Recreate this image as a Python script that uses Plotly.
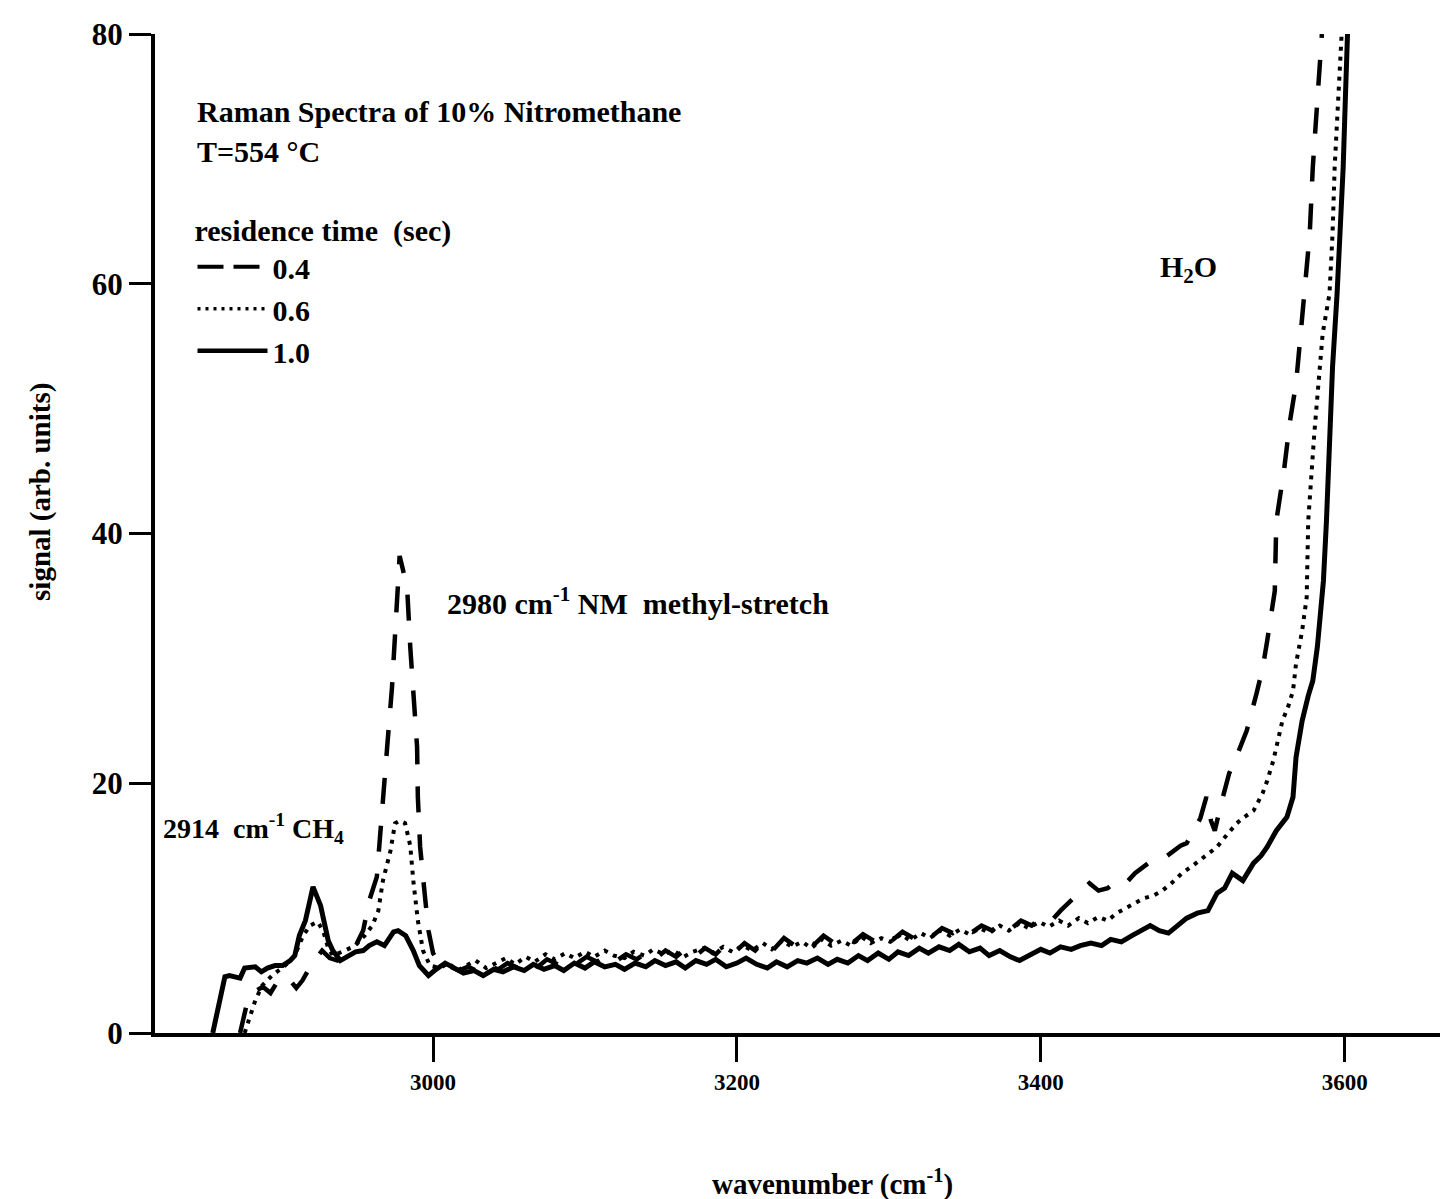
import plotly.graph_objects as go

# ---------------- data ----------------
# residence time 0.4 s (dashed)
x_04 = [2873, 2877, 2881, 2888, 2893, 2897, 2904, 2910, 2914, 2920, 2927, 2932, 2937, 2943,
        2950, 2954, 2958, 2963, 2967, 2970, 2973, 2975, 2977, 2978, 2980, 2983, 2985, 2987,
        2989.5, 2990, 2991.5, 2994.7, 2997, 3000, 3004,
        3010, 3017, 3023, 3030, 3036, 3043, 3049, 3056, 3062, 3069, 3075, 3082, 3088, 3095,
        3101, 3108, 3114, 3121, 3127, 3134, 3140, 3147, 3153, 3160, 3166, 3173, 3179, 3186,
        3192, 3199, 3205, 3212, 3218, 3225, 3231, 3238, 3244, 3251, 3257, 3264, 3270, 3277,
        3283, 3290, 3296, 3303, 3309, 3316, 3322, 3329, 3335, 3342, 3348, 3355, 3361, 3368,
        3374, 3381, 3387, 3394, 3400, 3407, 3413, 3420, 3426, 3432, 3438, 3444, 3450, 3456,
        3462, 3467, 3473, 3480, 3486, 3492, 3496, 3500, 3505, 3509, 3512, 3514.5, 3519, 3524,
        3530, 3535.5, 3542, 3546, 3549, 3554, 3555, 3560, 3564, 3568, 3572, 3575, 3577, 3579,
        3582, 3585]
y_04 = [0, 2.1, 3.2, 3.7, 3.2, 4.0, 4.5, 3.6, 4.2, 5.5, 6.6, 6.0, 5.8, 6.4,
        7.2, 8.2, 10.6, 12.5, 19.2, 23.2, 27.7, 32.2, 37.6, 38.2, 37.2, 35.5, 30.9, 26.9,
        22.9, 18.9, 14.9, 10.9, 8.2, 6.4, 5.6,
        5.4, 5.0, 5.3, 4.9, 5.4, 5.1, 5.6, 5.2, 5.7, 5.3, 5.9, 5.5, 6.0, 5.6,
        6.1, 5.7, 6.2, 5.8, 6.3, 5.9, 6.4, 6.0, 6.6, 6.1, 6.7, 6.2, 6.8, 6.3,
        7.0, 6.5, 7.2, 6.6, 7.4, 6.8, 7.6, 7.0, 7.5, 7.1, 7.8, 7.2, 7.6, 7.3,
        7.9, 7.4, 8.0, 7.5, 8.1, 7.6, 8.2, 7.8, 8.4, 8.0, 8.5, 8.1, 8.6, 8.2,
        8.8, 8.4, 9.0, 8.6, 9.2, 9.0, 9.8, 10.6, 11.2, 12.0, 11.4, 11.6, 12.2, 12.0,
        12.8, 13.3, 13.8, 13.9, 14.4, 15.0, 15.2, 16.0, 17.2, 18.9, 17.0, 16.2, 18.5, 20.8,
        22.5, 24.2, 27.2, 29.2, 31.4, 35.4, 41, 45, 49, 52, 57.3, 61, 64, 69.3,
        74.6, 80]

# residence time 0.6 s (dotted)
x_06 = [2876, 2883, 2887.5, 2894, 2902.6, 2909, 2914.5, 2919, 2924, 2927.6, 2931, 2934, 2942,
        2948.7, 2955, 2960, 2964, 2967, 2972, 2975, 2978, 2981.6, 2985, 2987, 2990, 2993.4,
        2998, 3004.6,
        3010, 3016, 3022, 3028, 3035, 3041, 3048, 3054, 3061, 3067, 3074, 3080, 3087, 3093,
        3100, 3106, 3113, 3119, 3126, 3132, 3139, 3145, 3152, 3158, 3165, 3171, 3178, 3184,
        3191, 3197, 3204, 3210, 3217, 3223, 3230, 3236, 3243, 3249, 3256, 3262, 3269, 3275,
        3282, 3288, 3295, 3301, 3308, 3314, 3321, 3327, 3334, 3340, 3347, 3353, 3360, 3366,
        3373, 3379, 3386, 3392, 3399, 3405, 3412, 3418, 3425, 3431, 3438, 3444, 3450, 3456,
        3462, 3468, 3474, 3480, 3486, 3493, 3500, 3507, 3512, 3516, 3522, 3529, 3534, 3540,
        3546, 3549, 3553, 3556, 3559, 3563, 3566, 3568, 3572, 3575, 3576, 3580, 3585.5, 3590,
        3592, 3593.4, 3596, 3598]
y_06 = [0, 2.6, 3.8, 4.6, 5.4, 6.2, 7.8, 8.6, 8.9, 8.2, 6.8, 6.2, 6.6,
        7.0, 7.8, 8.6, 9.8, 12.2, 14.6, 16.8, 17.0, 16.8, 15.0, 12.2, 9.0, 6.6,
        5.4, 5.2,
        5.6, 5.0, 5.4, 5.8, 5.2, 5.6, 6.0, 5.5, 6.1, 5.7, 6.3, 5.9, 6.4, 6.0,
        6.5, 6.1, 6.6, 6.2, 6.0, 6.5, 6.2, 6.7, 6.3, 6.6, 6.1, 6.5, 6.8, 6.4,
        6.9, 6.5, 7.0, 6.6, 7.2, 6.7, 7.4, 6.9, 7.3, 6.8, 7.5, 7.0, 7.4, 7.0,
        7.7, 7.2, 7.6, 7.3, 7.9, 7.4, 8.0, 7.6, 8.2, 7.8, 8.3, 7.9, 8.4, 8.0,
        8.6, 8.2, 8.8, 8.4, 8.9, 8.5, 9.0, 8.6, 9.2, 8.8, 9.3, 9.0, 9.6, 10.0,
        10.4, 10.8, 11.0, 11.4, 12.0, 12.8, 13.4, 14.1, 14.6, 14.9, 15.8, 16.8, 17.3, 17.8,
        19.2, 20.2, 21.8, 23.4, 25.0, 26.2, 27.4, 29.6, 32.2, 34.9, 41, 48, 56, 59.2,
        64, 69.3, 75, 80]

# residence time 1.0 s (solid)
x_10 = [2855, 2863, 2866, 2873, 2876, 2883, 2887, 2891, 2896, 2901, 2906, 2909, 2912, 2916,
        2921, 2926, 2931, 2934, 2939, 2944, 2949, 2954, 2958, 2963, 2968, 2974, 2977, 2982,
        2987, 2991, 2997, 3001, 3008,
        3014, 3020, 3027, 3033, 3040, 3046, 3053, 3060, 3066, 3073, 3080, 3086, 3093, 3100,
        3106, 3113, 3120, 3126, 3133, 3140, 3146, 3153, 3160, 3166, 3173, 3180, 3186, 3193,
        3200, 3206, 3213, 3220, 3226, 3233, 3240, 3246, 3253, 3260, 3266, 3273, 3280, 3286,
        3293, 3300, 3306, 3313, 3320, 3326, 3333, 3340, 3346, 3353, 3360, 3366, 3373, 3380,
        3386, 3393, 3400, 3406, 3413, 3420, 3426, 3433, 3440, 3446, 3453, 3460, 3466, 3472,
        3478, 3484, 3490, 3496, 3503, 3510, 3516, 3521, 3526, 3533, 3540, 3545, 3549, 3555,
        3562, 3566, 3568, 3572, 3576, 3579, 3582, 3584, 3586, 3588, 3590, 3592, 3595, 3597,
        3599, 3600.5, 3602]
y_10 = [0, 4.5, 4.6, 4.4, 5.2, 5.3, 4.9, 5.2, 5.4, 5.4, 5.8, 6.2, 7.8, 9.0,
        11.7, 10.2, 7.4, 6.6, 5.8, 6.2, 6.5, 6.6, 7.0, 7.3, 7.0, 8.1, 8.2, 7.8,
        6.6, 5.4, 4.6, 5.0, 5.6,
        5.2, 4.8, 5.0, 4.6, 5.1, 4.9, 5.3, 5.0, 5.5, 5.1, 5.4, 5.0, 5.6, 5.2,
        5.7, 5.3, 5.5, 5.1, 5.6, 5.3, 5.8, 5.4, 5.7, 5.2, 5.8, 5.5, 5.9, 5.3,
        5.6, 6.0, 5.5, 5.2, 5.7, 5.3, 5.8, 5.6, 6.0, 5.5, 5.9, 5.6, 6.2, 5.8,
        6.4, 5.9, 6.5, 6.2, 6.8, 6.4, 6.9, 6.6, 7.1, 6.5, 6.8, 6.2, 6.6, 6.1,
        5.8, 6.3, 6.7, 6.4, 6.9, 6.7, 7.0, 7.2, 7.0, 7.5, 7.3, 7.8, 8.2, 8.6,
        8.2, 8.0, 8.6, 9.2, 9.6, 9.8, 11.2, 11.6, 12.8, 12.2, 13.6, 14.2, 14.9, 16.2,
        17.3, 18.9, 22.1, 25.0, 27.0, 28.2, 30.9, 33.6, 36.2, 41, 47, 53.3, 59.2, 64,
        69.3, 75, 80.5]

series_names = ["0.4", "0.6", "1.0"]
x_ticks = [3000, 3200, 3400, 3600]
y_ticks = [0, 20, 40, 60, 80]

FONT = "Liberation Serif"
INK = "black"

fig = go.Figure()

# plotted spectra
fig.add_trace(go.Scatter(x=x_04, y=y_04, mode="lines", name=series_names[0], showlegend=False,
                         line=dict(color=INK, width=4.5, dash="26px,22px")))
fig.add_trace(go.Scatter(x=x_06, y=y_06, mode="lines", name=series_names[1], showlegend=False,
                         line=dict(color=INK, width=4, dash="4px,6px")))
fig.add_trace(go.Scatter(x=x_10, y=y_10, mode="lines", name=series_names[2], showlegend=False,
                         line=dict(color=INK, width=5)))

# legend samples (same styles, shorter dash so they read in the key)
fig.add_trace(go.Scatter(x=[None], y=[None], mode="lines", name=series_names[0],
                         line=dict(color=INK, width=4, dash="26px,10px")))
fig.add_trace(go.Scatter(x=[None], y=[None], mode="lines", name=series_names[1],
                         line=dict(color=INK, width=3.5, dash="3px,5px")))
fig.add_trace(go.Scatter(x=[None], y=[None], mode="lines", name=series_names[2],
                         line=dict(color=INK, width=4.5)))

ann_font = dict(family=FONT, size=30, color=INK, weight="bold")
fig.add_annotation(x=2843, y=73.8, xref="x", yref="y", xanchor="left", yanchor="middle",
                   text="Raman Spectra of 10% Nitromethane", showarrow=False, font=ann_font)
fig.add_annotation(x=2843, y=70.6, xref="x", yref="y", xanchor="left", yanchor="middle",
                   text="T=554 °C", showarrow=False, font=ann_font)
fig.add_annotation(x=3477, y=61.2, xref="x", yref="y", xanchor="left", yanchor="middle",
                   text="H<sub>2</sub>O", showarrow=False, font=ann_font)
fig.add_annotation(x=3008, y=34.6, xref="x", yref="y", xanchor="left", yanchor="middle",
                   text="2980 cm<sup>-1</sup> NM  methyl-stretch", showarrow=False, font=ann_font)
fig.add_annotation(x=2821, y=16.4, xref="x", yref="y", xanchor="left", yanchor="middle",
                   text="2914  cm<sup>-1</sup> CH<sub>4</sub>", showarrow=False,
                   font=dict(family=FONT, size=28, color=INK, weight="bold"))

# axis titles
title_font = dict(family=FONT, size=29, color=INK, weight="bold")
fig.add_annotation(x=-0.089, y=0.5415, xref="paper", yref="paper", xanchor="center",
                   yanchor="middle", textangle=-90, text="signal (arb. units)",
                   showarrow=False, font=title_font)
fig.add_annotation(x=0.5236, y=-0.150, xref="paper", yref="paper", xanchor="center",
                   yanchor="middle", text="wavenumber (cm<sup>-1</sup>)",
                   showarrow=False, font=title_font)

# the page shows the figure with an 8px body margin, so the figure is 8px smaller
fig.update_layout(
    width=1440, height=1191,
    margin=dict(l=147, r=0, t=26, b=166),
    paper_bgcolor="white", plot_bgcolor="white",
    font=dict(family=FONT, size=24, color=INK, weight="bold"),
    legend=dict(x=0.029, y=0.832, xanchor="left", yanchor="top",
                bgcolor="rgba(0,0,0,0)", borderwidth=0,
                title=dict(text="residence time  (sec)", font=dict(family=FONT, size=30, weight="bold")),
                font=dict(family=FONT, size=30, weight="bold"),
                tracegroupgap=0, itemwidth=70),
    xaxis=dict(range=[2817, 3668], tickvals=x_ticks, ticks="outside", ticklen=25, tickwidth=3,
               tickcolor=INK, showline=True, linewidth=4, linecolor=INK, showgrid=False,
               zeroline=False, automargin=False,
               tickfont=dict(family=FONT, size=23, weight="bold")),
    yaxis=dict(range=[0, 80], tickvals=y_ticks, ticks="outside", ticklen=22, tickwidth=3,
               tickcolor=INK, showline=True, linewidth=4, linecolor=INK, showgrid=False,
               zeroline=False, automargin=False,
               tickfont=dict(family=FONT, size=31, weight="bold")),
)

fig.write_html("out.html")
